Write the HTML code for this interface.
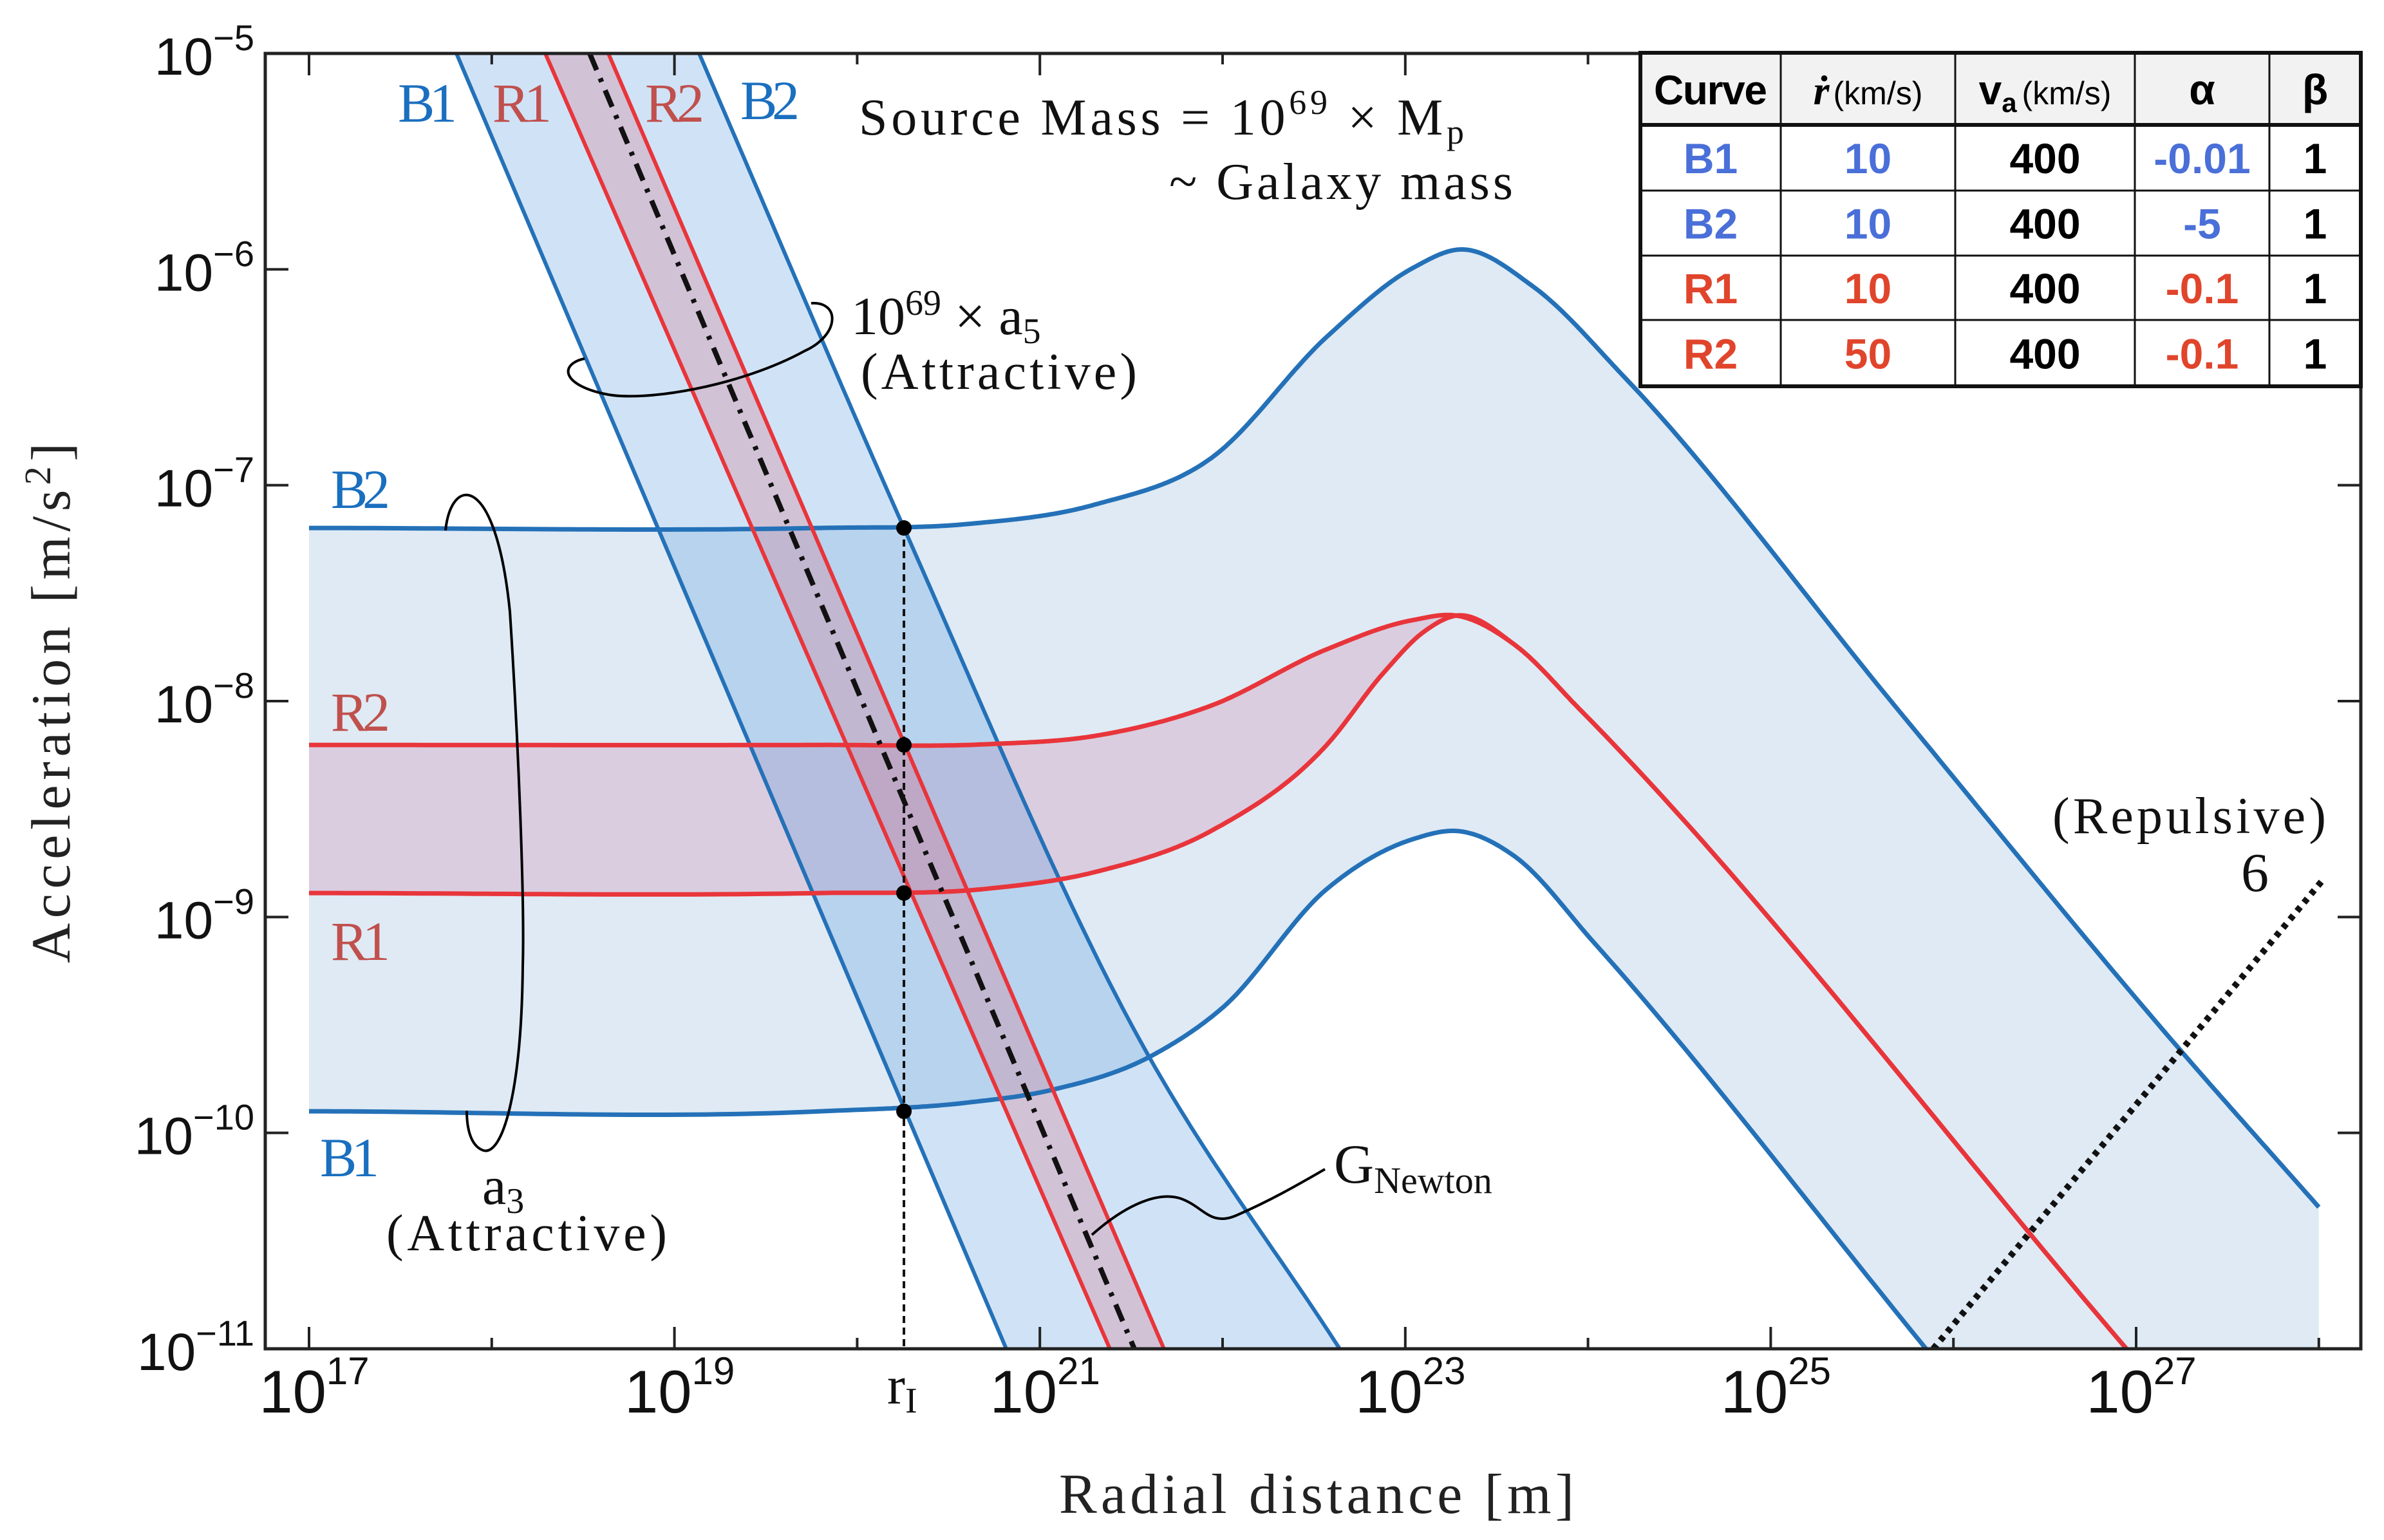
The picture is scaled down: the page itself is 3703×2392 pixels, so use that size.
<!DOCTYPE html>
<html><head><meta charset="utf-8"><style>
html,body{margin:0;padding:0;background:#fff;}
svg{display:block;}
.tick{font-family:"Liberation Sans",sans-serif;fill:#111;}
.ser{font-family:"Liberation Serif",serif;}
.tb{font-family:"Liberation Sans",sans-serif;font-weight:bold;}
</style></head><body>
<svg id="chart" width="3703" height="2392" viewBox="0 0 3703 2392" xmlns="http://www.w3.org/2000/svg">
<defs><clipPath id="plotClip"><rect x="412" y="83" width="3255" height="2012"/></clipPath></defs>
<g id="fills" clip-path="url(#plotClip)"></g>
<g id="lines" clip-path="url(#plotClip)"></g>
<g id="axes"></g>
<g id="annot">
  <path d="M692,824 C700,740 770,730 792,950 C805,1150 815,1400 812,1500 C810,1700 780,1795 751,1787 C730,1780 725,1750 725,1725" fill="none" stroke="#000" stroke-width="4"/>
  <path d="M1260,471 C1305,468 1305,520 1250,545 C1150,600 1000,625 940,612 C870,597 870,565 908,557" fill="none" stroke="#000" stroke-width="4"/>
  <path d="M1696,1918 C1750,1870 1800,1850 1835,1862 C1870,1875 1880,1905 1920,1888 C1980,1862 2030,1832 2058,1816" fill="none" stroke="#000" stroke-width="4"/>
  <g class="ser" font-size="86">
    <text x="618" y="189" fill="#1a6fbf" textLength="92">B1</text>
    <text x="765" y="189" fill="#c0504d" textLength="92">R1</text>
    <text x="1002" y="189" fill="#c0504d" textLength="92">R2</text>
    <text x="1150" y="185" fill="#1a6fbf" textLength="92">B2</text>
    <text x="514" y="789" fill="#1a6fbf" textLength="92">B2</text>
    <text x="514" y="1135" fill="#c0504d" textLength="92">R2</text>
    <text x="514" y="1491" fill="#c0504d" textLength="92">R1</text>
    <text x="497" y="1827" fill="#1a6fbf" textLength="92">B1</text>
  </g>
  <g class="ser" font-size="80" fill="#111">
    <text x="1334" y="209" textLength="940">Source Mass = 10<tspan font-size="54" dy="-32">69</tspan><tspan dy="32"> × M</tspan><tspan font-size="54" dy="14">p</tspan></text>
    <text x="1816" y="309" textLength="534">~ Galaxy mass</text>
    <text x="1322" y="519" font-size="84">10<tspan font-size="56" dy="-30">69</tspan><tspan dy="30"> × a</tspan><tspan font-size="56" dy="14">5</tspan></text>
    <text x="1337" y="604" textLength="429">(Attractive)</text>
    <text x="749" y="1870" font-size="84">a<tspan font-size="56" dy="14">3</tspan></text>
    <text x="600" y="1942" textLength="436">(Attractive)</text>
    <text x="1378" y="2180" font-size="84">r<tspan font-size="56" dy="14">I</tspan></text>
    <text x="2072" y="1837" font-size="86">G<tspan font-size="58" dy="16">Newton</tspan></text>
    <text x="3188" y="1294" textLength="425">(Repulsive)</text>
    <text x="3481" y="1384" font-size="86">6</text>
  </g>
  <text class="ser" font-size="86" fill="#222" transform="translate(108,1092) rotate(-90)" text-anchor="middle" textLength="808">Acceleration [m/s<tspan font-size="58" dy="-30">2</tspan><tspan dy="30">]</tspan></text>
  <text class="ser" font-size="88" fill="#222" x="1645" y="2350" textLength="800">Radial distance [m]</text>
</g>
<g id="table"></g>
</svg>
<script>
// ---- data (log10 r, log10 a) ----
const b1Steep = [[17.807,-5],[20.816,-11]];
const r1Steep = [[18.293,-5],[21.383,-11]];
const newtonLine = [[18.536,-5],[21.517,-11]];
const r2Steep = [[18.638,-5],[21.679,-11]];
const b2Steep = [[19.135,-5],[20.256,-7.198],[21.517,-9.524],[22.641,-11]];
const b2Hump = [[17,-7.198],[19.8,-7.198],[20.6,-7.18],[21.3,-7.09],[21.94,-6.873],[22.571,-6.312],[23.043,-5.993],[23.3,-5.908],[23.7,-6.08],[24.2,-6.5],[25.69,-8.033],[27.23,-9.605],[28.0,-10.344]];
const r2Hump = [[17,-8.203],[19.8,-8.203],[20.7,-8.2],[21.31,-8.16],[21.94,-8.02],[22.57,-7.76],[23.04,-7.625],[23.28,-7.604],[23.6,-7.74],[23.949,-8.033],[26.947,-11]];
const r1Hump = [[17,-8.889],[19.8,-8.889],[20.7,-8.87],[21.31,-8.79],[21.94,-8.60],[22.57,-8.203],[22.88,-7.87],[23.1,-7.68],[23.28,-7.604],[23.6,-7.74],[23.949,-8.033],[26.947,-11]];
const b1Hump = [[17,-9.9],[19.8,-9.9],[20.6,-9.86],[21.07,-9.8],[21.609,-9.644],[22.0,-9.42],[22.571,-8.87],[23.04,-8.64],[23.3,-8.603],[23.6,-8.72],[24.03,-9.116],[25.85,-11]];
const repulsive6 = [[25.89,-11],[28.02,-8.83]];
const rI = 20.256;
const markerLevels = [-7.198,-8.203,-8.889,-9.9];
const xTickExps = [17,18,19,20,21,22,23,24,25,26,27,28];
const xLabelExps = [17,19,21,23,25,27];
const yTickExps = [-11,-10,-9,-8,-7,-6,-5];
const tableHeader = ["Curve","ṙ","vₐ","α","β"];
const tableRows = [["B1","10","400","-0.01","1"],["B2","10","400","-5","1"],["R1","10","400","-0.1","1"],["R2","50","400","-0.1","1"]];
const rowColors = ["#4a6fd8","#4a6fd8","#e0452c","#e0452c"];

// ---- axes ----
const X0=480, XD=283.8, Y0=83, YD=335.33;
const L=412,T=83,R=3667,B=2095;
function X(lr){return X0+(lr-17)*XD;}
function Y(la){return Y0+(-5-la)*YD;}
const NS="http://www.w3.org/2000/svg";
function mk(tag,attrs,parent){const e=document.createElementNS(NS,tag);for(const k in attrs)e.setAttribute(k,attrs[k]);parent.appendChild(e);return e;}
// Hermite interpolation in data space (x = log r), sampled densely
function sample(arr){
  const n=arr.length;
  if(n<3) return arr.map(p=>[X(p[0]),Y(p[1])]);
  const m=[];
  for(let i=0;i<n;i++){
    if(i===0) m.push((arr[1][1]-arr[0][1])/(arr[1][0]-arr[0][0]));
    else if(i===n-1) m.push((arr[n-1][1]-arr[n-2][1])/(arr[n-1][0]-arr[n-2][0]));
    else{
      const s0=(arr[i][1]-arr[i-1][1])/(arr[i][0]-arr[i-1][0]);
      const s1=(arr[i+1][1]-arr[i][1])/(arr[i+1][0]-arr[i][0]);
      const h0=arr[i][0]-arr[i-1][0], h1=arr[i+1][0]-arr[i][0];
      m.push((s0*h1+s1*h0)/(h0+h1));
    }
  }
  const out=[];
  for(let i=0;i<n-1;i++){
    const x0=arr[i][0],x1=arr[i+1][0],y0=arr[i][1],y1=arr[i+1][1],h=x1-x0;
    const N=40;
    for(let k=0;k<N;k++){
      const t=k/N,t2=t*t,t3=t2*t;
      const y=(2*t3-3*t2+1)*y0+(t3-2*t2+t)*h*m[i]+(-2*t3+3*t2)*y1+(t3-t2)*h*m[i+1];
      out.push([X(x0+t*h),Y(y)]);
    }
  }
  out.push([X(arr[n-1][0]),Y(arr[n-1][1])]);
  return out;
}
function poly(P){return "M"+P.map(p=>p[0].toFixed(1)+","+p[1].toFixed(1)).join(" L");}
function cont(P){return " L"+P.map(p=>p[0].toFixed(1)+","+p[1].toFixed(1)).join(" L");}
const fills=document.getElementById('fills'), lines=document.getElementById('lines'), axes=document.getElementById('axes');

let el;
el=mk('path',{d:poly(sample(b2Hump))+" L"+X(28)+","+(B+5)+" L"+X(25.85)+","+(B+5)+cont(sample(b1Hump).reverse())+" Z",fill:"#dfeaf4"},fills);


el=mk('path',{d:poly(sample(r2Hump))+cont(sample(r1Hump).reverse())+" Z",fill:"rgb(205,130,170)","fill-opacity":"0.28"},fills);


el=mk('path',{d:poly(sample(b1Steep))+cont(sample(b2Steep).reverse())+" Z",fill:"rgb(80,150,222)","fill-opacity":"0.27"},fills);


el=mk('path',{d:poly(sample(r1Steep))+cont(sample(r2Steep).reverse())+" Z",fill:"rgb(215,120,140)","fill-opacity":"0.3"},fills);



function line(arr,color,w,name,extra){
  const e=mk('path',{d:poly(sample(arr)),fill:"none",stroke:color,"stroke-width":w,"stroke-linejoin":"round"},lines);
  if(extra)for(const k in extra)e.setAttribute(k,extra[k]);
  
  
}
const BLUE="#2471b8", RED="#e8353b";
line(b2Hump,BLUE,7,'b2-hump-curve');
line(b1Hump,BLUE,7,'b1-hump-curve');
line(b1Steep,BLUE,6,'b1-steep-curve');
line(b2Steep,BLUE,6,'b2-steep-curve');
line(r2Hump,RED,7,'r2-hump-curve');
line(r1Hump,RED,7,'r1-hump-curve');
line(r1Steep,RED,6,'r1-steep-curve');
line(r2Steep,RED,6,'r2-steep-curve');
line(newtonLine,"#111",8,'newton-line',{"stroke-dasharray":"28 14 6 14"});
line(repulsive6,"#111",10,'repulsive-6-line',{"stroke-dasharray":"8 9"});
el=mk('line',{x1:X(rI),y1:Y(markerLevels[0]),x2:X(rI),y2:B,stroke:"#111","stroke-width":4,"stroke-dasharray":"11 7"},lines);


markerLevels.forEach(v=>{
  const c=mk('circle',{cx:X(rI),cy:Y(v),r:12,fill:"#000"},lines);
  
  
});

el=mk('rect',{x:L,y:T,width:R-L,height:B-T,fill:"none",stroke:"#222","stroke-width":5},axes);


let tk="";
yTickExps.forEach(e=>{
  const y=Y(e);
  tk+=`M${L},${y}h36M${R},${y}h-36`;
  if(e>-5){for(let k=2;k<=9;k++){const yy=Y(e+Math.log10(k));tk+=`M${L},${yy}h19M${R},${yy}h-19`;}}
});
xTickExps.forEach(e=>{
  const x=X(e), len=(e%2===1)?34:17;
  tk+=`M${x},${B}v-${len}M${x},${T}v${len}`;
});
el=mk('path',{d:tk,stroke:"#222","stroke-width":4,fill:"none"},axes);


yTickExps.forEach(e=>{
  const t=mk('text',{x:395,y:Y(e)+33,"text-anchor":"end","font-size":82,class:"tick"},axes);
  
  
  t.textContent="10";
  const s=mk('tspan',{"font-size":56,dy:-38},t); s.textContent="−"+Math.abs(e);
});
xLabelExps.forEach(e=>{
  const t=mk('text',{x:X(e)+8,y:2194,"text-anchor":"middle","font-size":94,class:"tick"},axes);
  
  
  t.textContent="10";
  const s=mk('tspan',{"font-size":60,dy:-44},t); s.textContent=String(e);
});

const tg=document.getElementById('table');
const colX=[2548,2766,3037,3316,3525,3667], rowY=[82,194,296,397,497,600];
el=mk('rect',{x:colX[0],y:rowY[0],width:colX[5]-colX[0],height:rowY[5]-rowY[0],fill:"#fff"},tg);


el=mk('rect',{x:colX[0],y:rowY[0],width:colX[5]-colX[0],height:rowY[1]-rowY[0],fill:"#f2f2f2"},tg);


let gl="";
colX.forEach(x=>gl+=`M${x},${rowY[0]}V${rowY[5]}`);
rowY.forEach(y=>gl+=`M${colX[0]},${y}H${colX[5]}`);
el=mk('path',{d:gl,stroke:"#111","stroke-width":3,fill:"none"},tg);


mk('path',{d:`M${colX[0]},${rowY[0]}H${colX[5]}V${rowY[5]}H${colX[0]}Z M${colX[0]},${rowY[1]}H${colX[5]}`,stroke:"#111","stroke-width":6,fill:"none"},tg);
const cx=i=>(colX[i]+colX[i+1])/2, cy=j=>(rowY[j]+rowY[j+1])/2;
function ttext(x,y,s,size,color,name){
  const t=mk('text',{x:x,y:y,"text-anchor":"middle","font-size":size,fill:color,class:"tb"},tg);
  
  
  t.textContent=s; return t;
}
ttext(cx(0),cy(0)+24,tableHeader[0],64,"#000",'header-curve').setAttribute('textLength',176);
let h=ttext(cx(1),cy(0)+24,"",64,"#000",'header-rdot');
let s1=mk('tspan',{"font-style":"italic","font-family":"Liberation Serif"},h); s1.textContent="ṙ";
let s2=mk('tspan',{"font-size":50,"font-weight":"normal",dx:6},h); s2.textContent="(km/s)";
h=ttext(cx(2),cy(0)+24,"",64,"#000",'header-va');
s1=mk('tspan',{},h); s1.textContent="v";
s2=mk('tspan',{"font-size":42,dy:12},h); s2.textContent="a";
let s3=mk('tspan',{"font-size":50,"font-weight":"normal",dy:-12,dx:8},h); s3.textContent="(km/s)";
ttext(cx(3),cy(0)+24,tableHeader[3],66,"#000",'header-alpha');
ttext(cx(4),cy(0)+24,tableHeader[4],66,"#000",'header-beta');
tableRows.forEach((row,j)=>{
  row.forEach((v,i)=>{
    const col=(i===2||i===4)?"#000":rowColors[j];
    ttext(cx(i),cy(j+1)+24,v,66,col,'cell-'+row[0].toLowerCase()+'-'+i);
  });
});
</script>
</body></html>
